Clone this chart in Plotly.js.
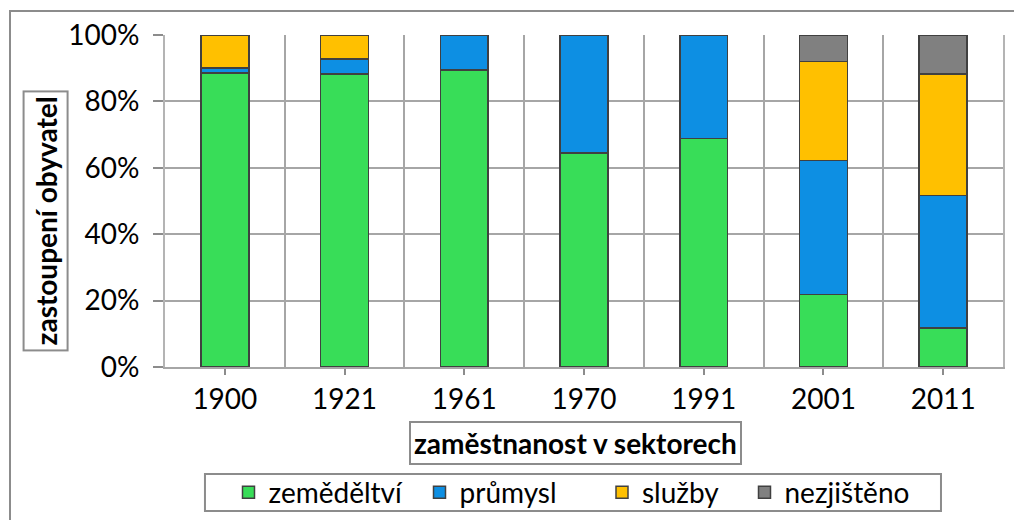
<!DOCTYPE html>
<html>
<head>
<meta charset="utf-8">
<script src="https://cdn.plot.ly/plotly-3.0.1.min.js"></script>
<style>
html,body{margin:0;padding:0;background:#fff;overflow:hidden;}
#wrap{position:relative;width:1014px;height:520px;}
#chart{position:absolute;left:0;top:0;width:1014px;height:520px;}
#frame{position:absolute;left:9px;top:10px;width:1100px;height:600px;border:2px solid #8c8c8c;pointer-events:none;}
</style>
</head>
<body>
<div id="wrap"><div id="chart"></div><div id="frame"></div></div>
<script>
const years = ['1900','1921','1961','1970','1991','2001','2011'];
const zemedelstvi = [88.6, 88.3, 89.5, 64.5, 68.9, 21.9, 11.7];
const prumysl     = [1.5, 4.4, 10.5, 35.5, 31.1, 40.3, 40.0];
const sluzby      = [9.9, 7.3, 0, 0, 0, 29.8, 36.6];
const nezjisteno  = [0, 0, 0, 0, 0, 8.0, 11.7];
const seriesNames = ['zeměděltví','průmysl','služby','nezjištěno'];
const yTicks = [0, 20, 40, 60, 80, 100];

const colors = ['#38dd58', '#0d8fe3', '#ffc000', '#808080'];
const FONT = 'Lato, "Open Sans", sans-serif';
const idx = years.map((_, i) => i);
const vals = [zemedelstvi, prumysl, sluzby, nezjisteno];
const legendIds = ['legend', 'legend2', 'legend3', 'legend4'];
// swatch centre positions (px) of each legend entry
const swatchPx = [248.5, 439.5, 622, 764.5];

const traces = vals.map((v, k) => ({
  type: 'bar',
  name: seriesNames[k],
  x: idx,
  y: v,
  width: 0.4,
  legend: legendIds[k],
  marker: {color: colors[k], line: {color: '#404040', width: 1.5}},
  hoverinfo: 'skip'
}));

const layout = {
  width: 1014, height: 520,
  margin: {l: 165, r: 11, t: 35, b: 153, autoexpand: false},
  paper_bgcolor: '#fff', plot_bgcolor: '#fff',
  barmode: 'stack',
  font: {family: FONT, size: 28, color: '#000'},
  showlegend: true,
  xaxis: {
    range: [-0.5, 6.5],
    tickmode: 'array', tickvals: idx, ticktext: years,
    ticks: 'outside', ticklen: 6, tickwidth: 2, tickcolor: '#8c8c8c',
    showgrid: false, zeroline: false,
    showline: true, linecolor: '#a6a6a6', linewidth: 2,
    tickfont: {family: FONT, size: 28, color: '#000'},
    minor: {tickmode: 'linear', tick0: 0.5, dtick: 1, showgrid: true, gridcolor: '#a6a6a6', gridwidth: 2, ticks: ''},
    fixedrange: true
  },
  yaxis: {
    range: [0, 100],
    tickmode: 'array', tickvals: yTicks, ticktext: yTicks.map(t => t + '%'),
    ticks: 'outside', ticklen: 10, tickwidth: 2, tickcolor: '#8c8c8c',
    showgrid: true, gridcolor: '#a6a6a6', gridwidth: 2, zeroline: false,
    showline: true, linecolor: '#b4b4b4', linewidth: 2, mirror: true,
    tickfont: {family: FONT, size: 28, color: '#000'},
    ticklabelstandoff: 8,
    fixedrange: true
  },
  shapes: [
    {type: 'rect', xref: 'paper', yref: 'paper', x0: 0.0477, x1: 0.926, y0: -0.322, y1: -0.434,
     line: {color: '#8c8c8c', width: 2}, fillcolor: 'rgba(0,0,0,0)'}
  ],
  annotations: [
    {
      text: '<b>zastoupení obyvatel</b>', textangle: -90,
      xref: 'paper', yref: 'paper', x: -0.1426, y: 0.44, xanchor: 'center', yanchor: 'middle',
      showarrow: false, font: {family: FONT, size: 28, color: '#000'},
      bordercolor: '#8c8c8c', borderwidth: 2, borderpad: 4, bgcolor: '#fff'
    },
    {
      text: '<b>zaměstnanost v sektorech</b>',
      xref: 'paper', yref: 'paper', x: 0.4899, y: -0.2304, xanchor: 'center', yanchor: 'middle',
      showarrow: false, font: {family: FONT, size: 28, color: '#000'},
      bordercolor: '#8c8c8c', borderwidth: 2, borderpad: 3, bgcolor: '#fff'
    }
  ]
};

legendIds.forEach((id, k) => {
  layout[id] = {
    orientation: 'h', xanchor: 'left', yanchor: 'middle',
    x: (swatchPx[k] - 20 - 165) / 838, y: -0.378,
    borderwidth: 0, bgcolor: 'rgba(0,0,0,0)',
    font: {family: FONT, size: 28, color: '#000'}, itemwidth: 30
  };
});

Plotly.newPlot('chart', traces, layout, {staticPlot: true, displayModeBar: false});
</script>
</body>
</html>
